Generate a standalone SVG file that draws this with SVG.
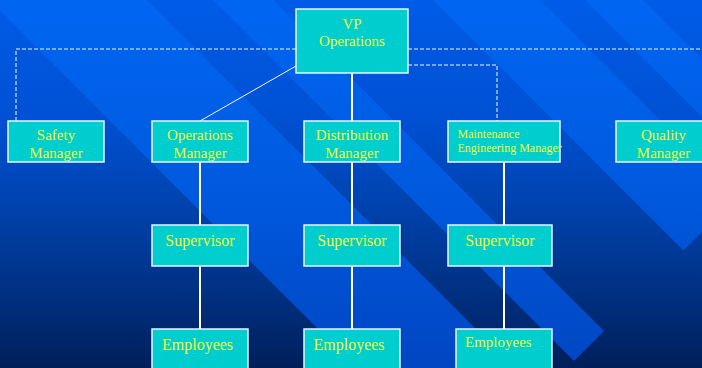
<svg xmlns="http://www.w3.org/2000/svg" width="702" height="368" viewBox="0 0 702 368">
<defs>
<linearGradient id="bg" x1="0" y1="0" x2="0" y2="368" gradientUnits="userSpaceOnUse">
<stop offset="0" stop-color="#005CE8"/>
<stop offset="0.33" stop-color="#0050D2"/>
<stop offset="0.55" stop-color="#0043B0"/>
<stop offset="0.76" stop-color="#003388"/>
<stop offset="1" stop-color="#001F5A"/>
</linearGradient>
<linearGradient id="st" x1="0" y1="0" x2="0" y2="368" gradientUnits="userSpaceOnUse">
<stop offset="0" stop-color="#0066F2"/>
<stop offset="0.5" stop-color="#005ADF"/>
<stop offset="1" stop-color="#0046C2"/>
</linearGradient>
<style>
.box{fill:#00CDCD;stroke:#EAF4FF;stroke-width:1.5}
.t{font-family:"Liberation Serif","Times New Roman",serif;fill:#EEFF3C}
.m{font-size:15px;text-anchor:middle}
.s{font-size:16px;text-anchor:middle}
.e{font-size:16px}
.solid{stroke:#FFFFFF;stroke-width:2;fill:none}
.thin{stroke:#F4F8FF;stroke-width:1;fill:none}
.dash{stroke:#F4F8FF;stroke-width:1;fill:none;stroke-dasharray:4 2}
</style>
</defs>
<rect x="0" y="0" width="702" height="368" fill="url(#bg)"/>
<g id="stripes" fill="url(#st)">
<polygon points="-11,0 147,0 547,400 389,400"/>
<polygon points="213,0 273,0 604,331 574,361"/>
<polygon points="433,0 540,0 737,197 683.5,250.5"/>
<polygon points="585,0 643,0 788.5,145.5 759.5,174.5"/>
</g>
<g id="connectors">
<line class="solid" x1="352" y1="73" x2="352" y2="121"/>
<line class="thin" x1="296" y1="66" x2="200" y2="121"/>
<path class="dash" d="M296,49 H16 V121"/>
<path class="dash" d="M408,49 H702"/>
<path class="dash" d="M408,65 H497 V121"/>
<line class="solid" x1="200" y1="162" x2="200" y2="225"/>
<line class="solid" x1="200" y1="266" x2="200" y2="329"/>
<line class="solid" x1="352" y1="162" x2="352" y2="225"/>
<line class="solid" x1="352" y1="266" x2="352" y2="329"/>
<line class="solid" x1="504" y1="162" x2="504" y2="225"/>
<line class="solid" x1="504" y1="266" x2="504" y2="329"/>
</g>
<g id="vp">
<rect class="box" x="296" y="9" width="112" height="64"/>
<text class="t m" x="352" y="28.5" font-size="16">VP</text>
<text class="t m" x="352" y="46">Operations</text>
</g>
<g id="safety">
<rect class="box" x="8" y="121" width="96" height="41"/>
<text class="t m" x="56" y="140">Safety</text>
<text class="t m" x="56" y="158">Manager</text>
</g>
<g id="opsmgr">
<rect class="box" x="152" y="121" width="96" height="41"/>
<text class="t m" x="200" y="140">Operations</text>
<text class="t m" x="200" y="158">Manager</text>
</g>
<g id="distmgr">
<rect class="box" x="304" y="121" width="96" height="41"/>
<text class="t m" x="352" y="140">Distribution</text>
<text class="t m" x="352" y="158">Manager</text>
</g>
<g id="maintmgr">
<rect class="box" x="448" y="121" width="112" height="41"/>
<text class="t" x="457.5" y="137.5" font-size="12">Maintenance</text>
<text class="t" x="457.5" y="152" font-size="12">Engineering Manager</text>
</g>
<g id="qualmgr">
<rect class="box" x="616" y="121" width="96" height="41"/>
<text class="t m" x="663.5" y="140">Quality</text>
<text class="t m" x="663.5" y="158">Manager</text>
</g>
<g id="sup1">
<rect class="box" x="152" y="225" width="96" height="41"/>
<text class="t s" x="200" y="246">Supervisor</text>
</g>
<g id="sup2">
<rect class="box" x="304" y="225" width="96" height="41"/>
<text class="t s" x="352" y="246">Supervisor</text>
</g>
<g id="sup3">
<rect class="box" x="448" y="225" width="104" height="41"/>
<text class="t s" x="500" y="246">Supervisor</text>
</g>
<g id="emp1">
<rect class="box" x="152" y="329" width="96" height="41"/>
<text class="t e" x="162" y="350">Employees</text>
</g>
<g id="emp2">
<rect class="box" x="304" y="329" width="96" height="41"/>
<text class="t e" x="313.5" y="350">Employees</text>
</g>
<g id="emp3">
<rect class="box" x="456" y="329" width="96" height="41"/>
<text class="t" x="465" y="347" font-size="15">Employees</text>
</g>
</svg>
